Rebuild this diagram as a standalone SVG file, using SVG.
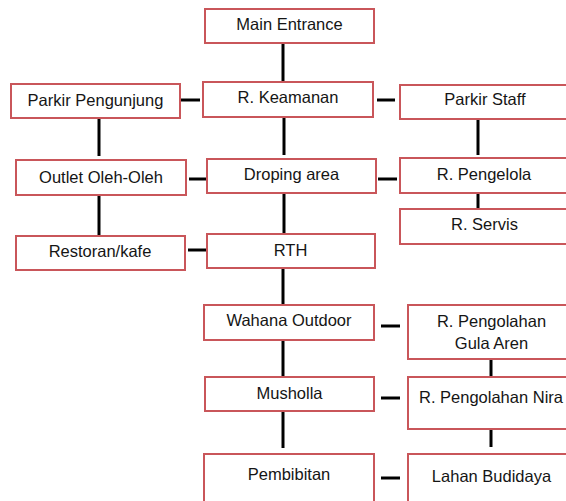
<svg xmlns="http://www.w3.org/2000/svg" width="566" height="501" viewBox="0 0 566 501">
<style>
.box{fill:#fff;stroke:#c9565a;stroke-width:2}
.t{font-family:"Liberation Sans",Arial,sans-serif;font-size:16.5px;fill:#151515;text-anchor:middle}
.c{stroke:#000;stroke-width:3;fill:none}
</style>
<rect width="566" height="501" fill="#fff"/>
<g id="connectors">
<path class="c" d="M283 43V82"/>
<path class="c" d="M181 100H200"/>
<path class="c" d="M377 100H395"/>
<path class="c" d="M284 117V155"/>
<path class="c" d="M99 118V156"/>
<path class="c" d="M478 119V155"/>
<path class="c" d="M189 179H206"/>
<path class="c" d="M378 179H397"/>
<path class="c" d="M478 193V208"/>
<path class="c" d="M99 195V235"/>
<path class="c" d="M284 193V233"/>
<path class="c" d="M188 250H206"/>
<path class="c" d="M283 268V305"/>
<path class="c" d="M381 326H400"/>
<path class="c" d="M283 340V377"/>
<path class="c" d="M491 359V377"/>
<path class="c" d="M381 398H400"/>
<path class="c" d="M283 411V448"/>
<path class="c" d="M491 429V447"/>
<path class="c" d="M381 478H400"/>
</g>
<g id="main-entrance"><rect class="box" x="205" y="9" width="169" height="34"/><text class="t" x="289.5" y="30">Main Entrance</text></g>
<g id="r-keamanan"><rect class="box" x="203" y="82" width="170" height="35"/><text class="t" x="288" y="103">R. Keamanan</text></g>
<g id="parkir-pengunjung"><rect class="box" x="11" y="84" width="169" height="34"/><text class="t" x="95.5" y="106">Parkir Pengunjung</text></g>
<g id="parkir-staff"><rect class="box" x="400" y="85" width="170" height="34"/><text class="t" x="485" y="105">Parkir Staff</text></g>
<g id="outlet"><rect class="box" x="16" y="160" width="170" height="35"/><text class="t" x="101" y="183">Outlet Oleh-Oleh</text></g>
<g id="droping"><rect class="box" x="207" y="159" width="169" height="34"/><text class="t" x="291.5" y="180">Droping area</text></g>
<g id="r-pengelola"><rect class="box" x="400" y="158" width="170" height="35"/><text class="t" x="484" y="180">R. Pengelola</text></g>
<g id="r-servis"><rect class="box" x="400" y="209" width="170" height="35"/><text class="t" x="484.5" y="230">R. Servis</text></g>
<g id="restoran"><rect class="box" x="16" y="236" width="169" height="34"/><text class="t" x="100" y="256.5">Restoran/kafe</text></g>
<g id="rth"><rect class="box" x="207" y="234" width="168" height="34"/><text class="t" x="290.5" y="255.5">RTH</text></g>
<g id="wahana"><rect class="box" x="204" y="305" width="170" height="35"/><text class="t" x="289" y="326">Wahana Outdoor</text></g>
<g id="gula-aren"><rect class="box" x="408" y="305" width="167" height="54"/><text class="t" x="491.5" y="326.5">R. Pengolahan</text><text class="t" x="491.5" y="348.5">Gula Aren</text></g>
<g id="musholla"><rect class="box" x="205" y="377" width="169" height="34"/><text class="t" x="289.5" y="398.5">Musholla</text></g>
<g id="nira"><rect class="box" x="408" y="377" width="167" height="52"/><text class="t" x="491" y="402.5">R. Pengolahan Nira</text></g>
<g id="pembibitan"><rect class="box" x="204" y="454" width="170" height="60"/><text class="t" x="289" y="480">Pembibitan</text></g>
<g id="lahan"><rect class="box" x="408" y="454" width="167" height="60"/><text class="t" x="491.5" y="481.5">Lahan Budidaya</text></g>
</svg>
